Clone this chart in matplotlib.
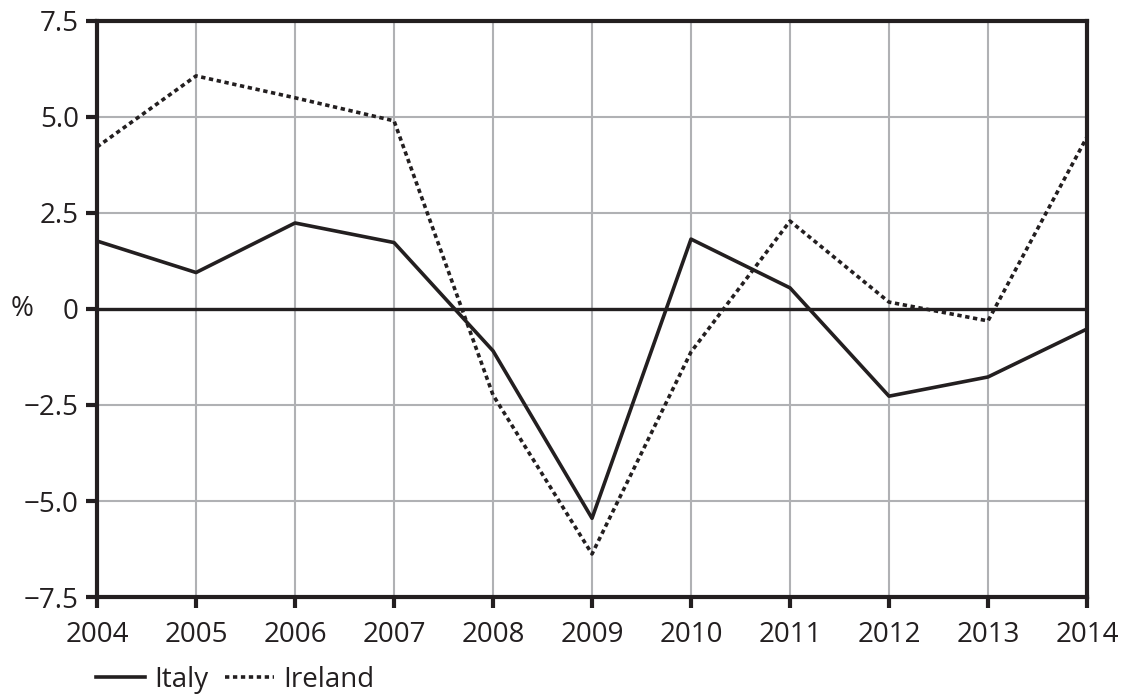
import matplotlib
matplotlib.use("Agg")
import matplotlib.pyplot as plt

years = [2004, 2005, 2006, 2007, 2008, 2009, 2010, 2011, 2012, 2013, 2014]
italy = [1.77, 0.95, 2.24, 1.73, -1.09, -5.45, 1.82, 0.55, -2.27, -1.77, -0.52]
ireland = [4.22, 6.07, 5.5, 4.9, -2.24, -6.38, -1.12, 2.29, 0.18, -0.31, 4.48]
yticks = [-7.5, -5.0, -2.5, 0, 2.5, 5.0, 7.5]
ylabels = ["\u22127.5", "\u22125.0", "\u22122.5", "0", "2.5", "5.0", "7.5"]

plt.rcParams["font.family"] = ["Open Sans", "DejaVu Sans"]

fig = plt.figure(figsize=(11.27, 6.95), dpi=100)
ax = fig.add_axes([0.0861, 0.141, 0.8784, 0.8288])

ax.plot(years, italy, color="#231f20", lw=2.6, label="Italy", zorder=4)
ax.plot(years, ireland, color="#231f20", lw=2.6, ls=(0, (1.2, 1.0)), label="Ireland", zorder=4)
ax.axhline(0, color="#231f20", lw=2.4, zorder=3)

ax.set_xlim(2004, 2014)
ax.set_ylim(-7.5, 7.5)
ax.set_xticks(years)
ax.set_yticks(yticks)
ax.set_yticklabels(ylabels)
ax.grid(True, color="#b0b1b4", lw=1.5, zorder=0)
ax.set_axisbelow(True)

for s in ax.spines.values():
    s.set_color("#231f20")
    s.set_linewidth(3)
ax.tick_params(direction="out", length=8, width=3, color="#231f20",
               labelsize=20, labelcolor="#231f20")
ax.tick_params(axis="x", pad=9)
ax.tick_params(axis="y", pad=5)

ax.text(-0.087, 0.5, "%", transform=ax.transAxes, fontsize=20,
        color="#231f20", ha="left", va="center")

ax.legend(loc="upper left", bbox_to_anchor=(-0.012, -0.1), ncol=2, frameon=False,
          fontsize=20, handlelength=1.75, handletextpad=0.35, columnspacing=0.6,
          borderaxespad=0, labelcolor="#231f20")

fig.savefig("out.png", dpi=100)
